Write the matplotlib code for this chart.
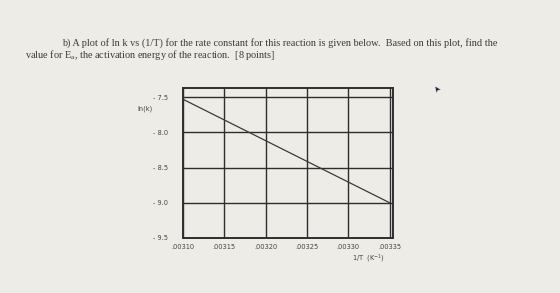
import matplotlib.pyplot as plt
import numpy as np

# values
inv_T = [0.00310, 0.00335]
ln_k = [-7.53, -9.0]
xticks = [0.00310, 0.00315, 0.00320, 0.00325, 0.00330, 0.00335]
xticklabels = [".00310", ".00315", ".00320", ".00325", ".00330", ".00335"]
yticks = [-9.5, -9.0, -8.5, -8.0, -7.5]
yticklabels = ["- 9.5", "- 9.0", "- 8.5", "- 8.0", "- 7.5"]

paper = "#eeece6"
ink = "#2e2e2e"

fig = plt.figure(figsize=(5.6, 2.93), dpi=100)
fig.patch.set_facecolor(paper)

# question text above the plot
fig.text(62/560, 1-43/293, "b) A plot of ln k vs (1/T) for the rate constant for this reaction is given below.  Based on this plot, find the",
         family="Liberation Serif", fontsize=7.4, color="#3a3a3a", va="center")
fig.text(25/560, 1-55/293, "value for E$_\\mathregular{a}$, the activation energy of the reaction.  [8 points]",
         family="Liberation Serif", fontsize=7.4, color="#3a3a3a", va="center")

ax = fig.add_axes([183/560, 1-238/293, 210/560, 150/293])
ax.set_facecolor(paper)
ax.plot(inv_T, ln_k, color="#3a3a3a", lw=0.9)

ax.set_xlim(0.00310, 0.003354)
ax.set_ylim(-9.5, -7.37)
ax.set_xticks(xticks)
ax.set_xticklabels(xticklabels)
ax.set_yticks(yticks)
ax.set_yticklabels(yticklabels)
ax.tick_params(length=0, labelsize=4.8, labelcolor="#444444")
ax.tick_params(axis="y", pad=11)
ax.tick_params(axis="x", pad=4)
ax.grid(True, color=ink, lw=1.0)
for s in ax.spines.values():
    s.set_color(ink)
    s.set_linewidth(1.4)

fig.text(137/560, 1-109/293, "ln(k)", fontsize=4.8, color="#444444", va="center")
fig.text(352/560, 1-259/293, "1/T  (K$^{-1}$)", fontsize=4.8, color="#444444", va="center")

# mouse pointer in the photo
fig.text(437/560, 1-88/293, "\u27a4", fontsize=6, color="#222244", rotation=125,
         ha="center", va="center")

plt.savefig("out.png", dpi=100, facecolor=paper)
